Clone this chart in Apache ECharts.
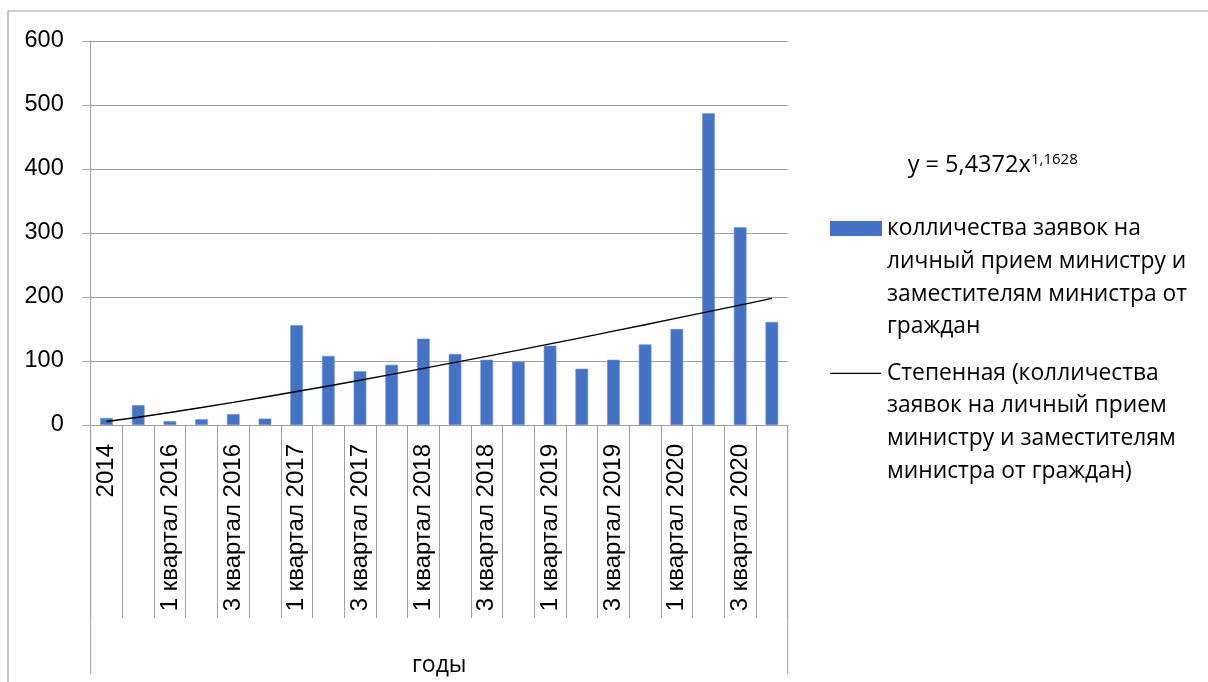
<!DOCTYPE html>
<html>
<head>
<meta charset="utf-8">
<script src="https://cdn.jsdelivr.net/npm/echarts@6/dist/echarts.min.js"></script>
<style>
html,body{margin:0;padding:0;background:#fff;}
#chart{width:1208px;height:682px;}
</style>
</head>
<body>
<div id="chart"></div>
<script>
const categories = ['2014','2015','1 квартал 2016','2 квартал 2016','3 квартал 2016','4 квартал 2016',
  '1 квартал 2017','2 квартал 2017','3 квартал 2017','4 квартал 2017',
  '1 квартал 2018','2 квартал 2018','3 квартал 2018','4 квартал 2018',
  '1 квартал 2019','2 квартал 2019','3 квартал 2019','4 квартал 2019',
  '1 квартал 2020','2 квартал 2020','3 квартал 2020','4 квартал 2020'];
const requests = [11,31,6,9,17,10,156,108,84,94,135,111,102,99,124,88,102,126,150,487,309,161];
const trend = [5.4,12.2,19.5,27.3,35.3,43.7,52.3,61.0,70.0,79.1,88.4,97.8,107.3,117.0,126.8,136.6,146.6,156.7,166.9,177.1,187.4,197.8];
const yMin = 0, yMax = 600, yStep = 100;
const barName = 'колличества заявок на\nличный прием министру и\nзаместителям министра от\nграждан';
const trendName = 'Степенная (колличества\nзаявок на личный прием\nминистру и заместителям\nминистра от граждан)';
const eqMain = 'y = 5,4372x';
const eqSup = '1,1628';
const axisName = 'годы';

const W = 1208, H = 682;
const G = {left: 90.7, right: 420.3, top: 41, bottom: 252.7};
const plotRight = W - G.right, plotBottom = H - G.bottom;
const gridColor = '#a0a0a0';
const legendFont = '22.8px "Open Sans"';

const chart = echarts.init(document.getElementById('chart'));
chart.setOption({
  animation: false,
  backgroundColor: '#fff',
  grid: {left: G.left, right: G.right, top: G.top, bottom: G.bottom, containLabel: false},
  xAxis: {
    type: 'category',
    data: categories,
    boundaryGap: true,
    name: axisName,
    nameLocation: 'middle',
    nameGap: 229,
    nameTextStyle: {fontFamily: 'Open Sans', fontSize: 23, color: '#000'},
    axisLine: {show: true, lineStyle: {color: gridColor, width: 1}},
    axisTick: {show: true, interval: 0, length: 193, lineStyle: {color: gridColor, width: 1}},
    axisLabel: {interval: 1, rotate: 90, margin: 19, fontFamily: 'Liberation Sans', fontSize: 24, color: '#000'},
    splitLine: {show: false}
  },
  yAxis: {
    type: 'value',
    min: yMin, max: yMax, interval: yStep,
    axisLine: {show: true, lineStyle: {color: gridColor, width: 1}},
    axisTick: {show: true, length: 8, lineStyle: {color: gridColor, width: 1}},
    axisLabel: {margin: 27, fontFamily: 'Liberation Sans', fontSize: 23.5, color: '#000'},
    splitLine: {show: true, lineStyle: {color: gridColor, width: 1}}
  },
  series: [
    {
      name: barName, type: 'bar', data: requests,
      barCategoryGap: '60%',
      itemStyle: {color: '#4472c4', borderColor: '#6f93d3', borderWidth: 0.6}
    },
    {
      name: trendName, type: 'line', data: trend,
      symbol: 'none', smooth: false,
      lineStyle: {color: '#000', width: 1.4}
    }
  ],
  graphic: [
    {type: 'line', shape: {x1: 8, y1: 11, x2: W, y2: 11}, style: {stroke: gridColor, lineWidth: 1.2}},
    {type: 'line', shape: {x1: 8, y1: 11, x2: 8, y2: H}, style: {stroke: gridColor, lineWidth: 1.2}},
    {type: 'line', shape: {x1: G.left, y1: plotBottom, x2: G.left, y2: 674}, style: {stroke: gridColor, lineWidth: 1}},
    {type: 'line', shape: {x1: plotRight, y1: plotBottom, x2: plotRight, y2: 674}, style: {stroke: gridColor, lineWidth: 1}},
    {type: 'text', x: 907.7, y: 165, style: {text: eqMain, font: '23.5px "Open Sans"', fill: '#000', verticalAlign: 'middle', align: 'left'}},
    {type: 'text', x: 1031, y: 160, style: {text: eqSup, font: '15px "Open Sans"', fill: '#000', verticalAlign: 'middle', align: 'left'}},
    {type: 'rect', shape: {x: 830, y: 221, width: 52, height: 15}, style: {fill: '#4472c4'}},
    {type: 'text', x: 887, y: 212.7, style: {text: barName, font: legendFont, lineHeight: 32.6, fill: '#000', verticalAlign: 'top', align: 'left'}},
    {type: 'line', shape: {x1: 830, y1: 373.3, x2: 881, y2: 373.3}, style: {stroke: '#000', lineWidth: 1.3}},
    {type: 'text', x: 887, y: 357, style: {text: trendName, font: legendFont, lineHeight: 32.6, fill: '#000', verticalAlign: 'top', align: 'left'}}
  ]
});
</script>
</body>
</html>
